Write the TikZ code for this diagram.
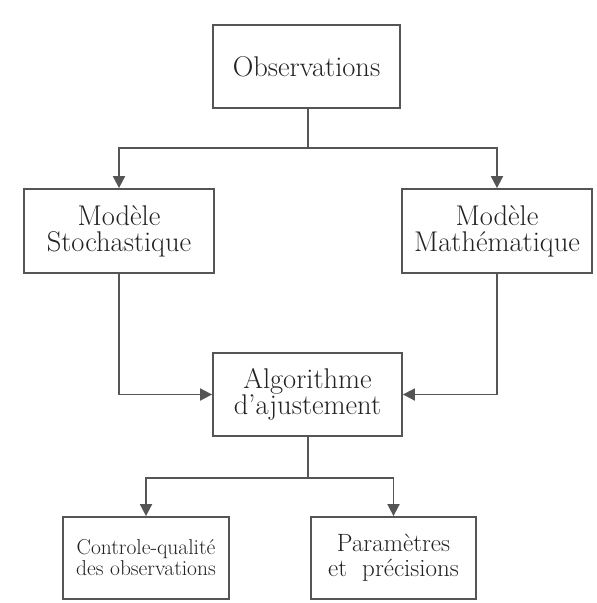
\documentclass[tikz,border=0pt]{standalone}
\usepackage{fontspec}
\usetikzlibrary{arrows.meta}
\definecolor{linegray}{HTML}{555555}
\definecolor{txt}{HTML}{222222}
\tikzset{
  box/.style={draw=linegray, line width=1.8pt, fill=white, align=center, inner sep=0pt,
    text=txt, font=\fontsize{28.5}{26}\selectfont},
  conn/.style={draw=linegray, line width=1.8pt},
  arr/.style={conn, -{Triangle[length=12pt,width=12pt]}},
}
\begin{document}
\begin{tikzpicture}[x=1pt,y=-1pt]
\useasboundingbox (0,0) rectangle (597,603);
\node[box, minimum width=187pt, minimum height=83pt] (obs) at (306.5,66.5) {Observations};
\node[box, minimum width=190pt, minimum height=84pt] (sto) at (119,231) {Modèle\\Stochastique};
\node[box, minimum width=190pt, minimum height=84pt] (mat) at (497,231) {Modèle\\Mathématique};
\node[box, minimum width=189pt, minimum height=83pt] (alg) at (307.5,394.5) {Algorithme\\d'ajustement};
\node[box, minimum width=166pt, minimum height=82pt, font=\fontsize{21.5}{21}\selectfont] (ctl) at (146,558) {Controle-qualité\\des observations};
\node[box, minimum width=165pt, minimum height=82pt, font=\fontsize{25}{25}\selectfont] (par) at (393.5,558) {Paramètres\\et~~précisions};
\coordinate (j1) at (308,148);
\coordinate (j2) at (308,478);
\draw[conn] (obs.south -| j1) -- (j1);
\draw[arr] (j1) -| (sto.north);
\draw[arr] (j1) -| (mat.north);
\draw[arr] (sto.south) |- (alg.west);
\draw[arr] (mat.south) |- (alg.east);
\draw[conn] (alg.south -| j2) -- (j2);
\draw[arr] (j2) -| (ctl.north);
\draw[arr] (j2) -| (par.north);
\end{tikzpicture}
\end{document}
